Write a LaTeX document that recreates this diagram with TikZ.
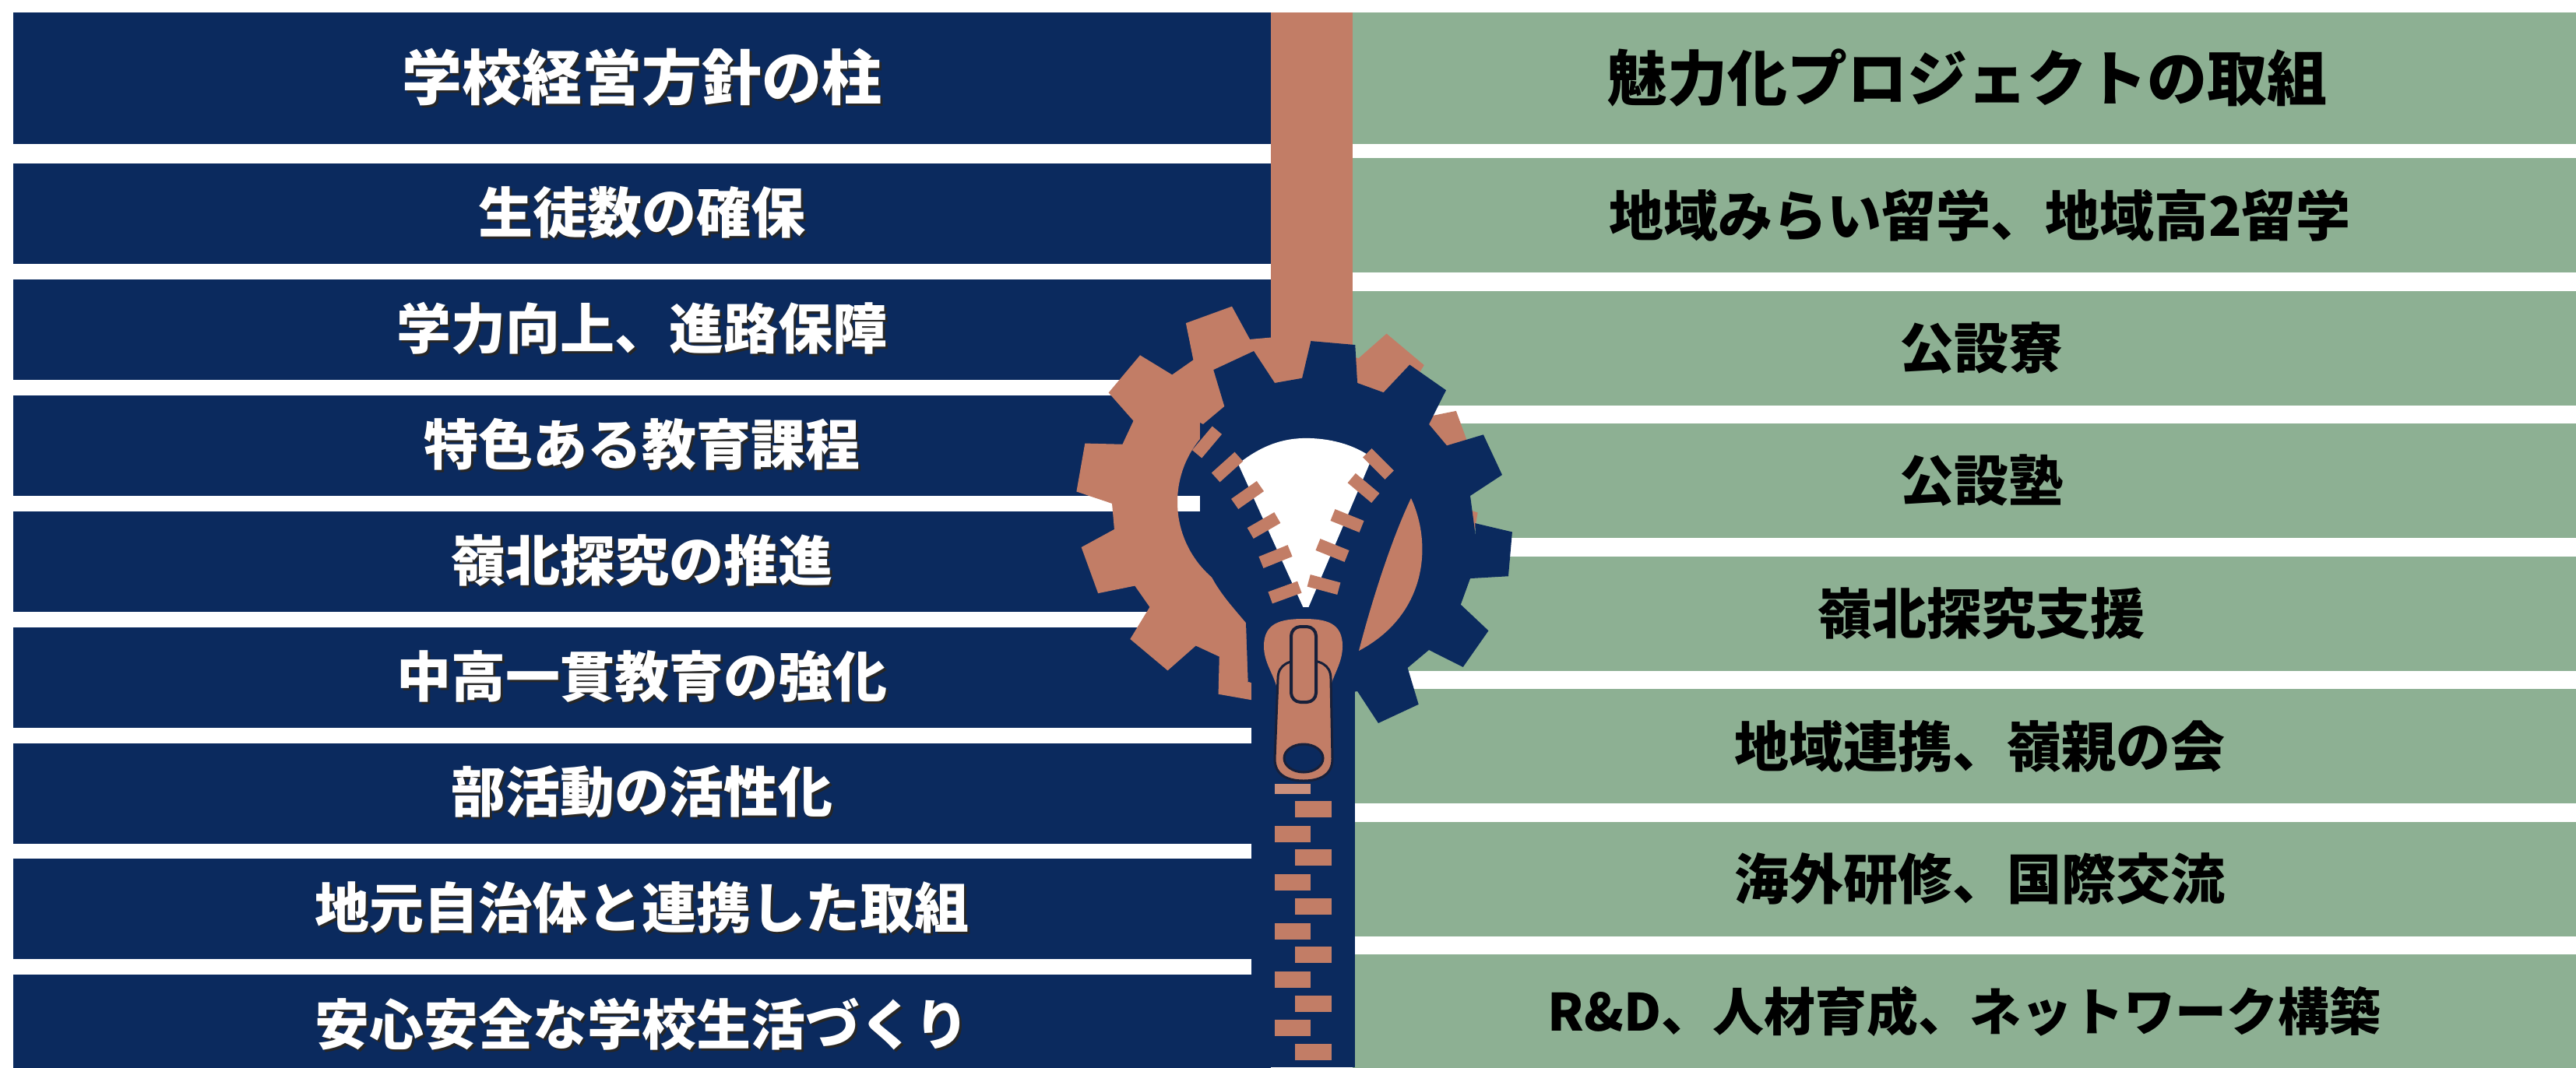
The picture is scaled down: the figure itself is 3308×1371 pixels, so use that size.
\documentclass[tikz,border=0pt]{standalone}
\usepackage{fontspec}
\setmainfont{Noto Sans CJK JP}
\definecolor{navy}{HTML}{0B2A5E}
\definecolor{copper}{HTML}{C27D66}
\definecolor{sage}{HTML}{8DB093}
\definecolor{rim}{HTML}{17203A}
\newcommand{\lifttext}[1]{\rlap{\kern3pt\raisebox{-3pt}{\color{black!85}#1}}#1}
\newcommand{\rowfont}{\fontsize{70pt}{70pt}\selectfont\bfseries}
\newcommand{\headfont}{\fontsize{77pt}{77pt}\selectfont\bfseries}
\tikzset{
	leftbar/.style={fill=navy,text=white,inner sep=0pt,minimum width=1615pt,minimum height=129pt,font=\rowfont},
	rightbar/.style={fill=sage,text=black,inner sep=0pt,minimum width=1571pt,minimum height=147pt,font=\rowfont},
	tooth/.style={fill=copper,inner sep=0pt,minimum width=40pt,minimum height=16pt},
	slider/.style={fill=copper,draw=rim,line width=3pt}
}
\begin{document}
\begin{tikzpicture}[x=1pt,y=-1pt]
	\useasboundingbox (0,0) rectangle (3308,1371);
	\clip (0,0) rectangle (3308,1371);
	\fill[white] (0,0) rectangle (3308,1371);
	% left column
	\node[leftbar,minimum height=169pt,font=\headfont] (L0) at (824.5,100.5) {\lifttext{学校経営方針の柱}};
	\foreach \t [count=\i] in {生徒数の確保,学力向上、進路保障,特色ある教育課程,嶺北探究の推進,中高一貫教育の強化,部活動の活性化,地元自治体と連携した取組,安心安全な学校生活づくり}
		\node[leftbar] (L\i) at (824.5,{274.5+148.9*(\i-1)}) {\lifttext{\t}};
	% right column
	\node[rightbar,minimum height=169pt,font=\headfont] (R0) at (2522.5,100.5) {\hspace*{8pt}魅力化プロジェクトの取組};
	\foreach \t/\s [count=\i] in {地域みらい留学、地域高2留学/40,公設寮/44,公設塾/44,嶺北探究支援/44,地域連携、嶺親の会/40,海外研修、国際交流/40}
		\node[rightbar] (R\i) at (2522.5,{276.5+170.5*(\i-1)}) {\hspace*{\s pt}\t};
	\node[rightbar,font=\fontsize{66pt}{66pt}\selectfont\bfseries] (R7) at (2522.5,1299.5) {R\&D、人材育成、ネットワーク構築};
	% zipper tape and copper gear
	\fill[copper] (1632,16) rectangle (1737,480);
	\fill[copper,even odd rule,shift={(1640,645)}] (0:212)
		\foreach \k in {0,...,11} {--({10+30*\k-10.5}:212)--({10+30*\k-7}:258)--({10+30*\k+7}:258)--({10+30*\k+10.5}:212)}
		-- cycle (0,0) circle (128);
	% navy gear
	\begin{scope}
		\clip (1541,380)--(2100,380)--(2100,1000)--(1607,1000)--(1600,800) .. controls (1575,770) and (1545,740) .. (1541,690)--cycle;
		\fill[navy,shift={(1690,690)}] (0:205)
			\foreach \k in {0,...,11} {--({5+30*\k-10}:205)--({5+30*\k-6.5}:252)--({5+30*\k+6.5}:252)--({5+30*\k+10}:205)}
			-- cycle;
	\end{scope}
	\fill[copper] (1812,640) .. controls (1840,700) and (1832,790) .. (1745,836) .. controls (1762,770) and (1788,690) .. (1812,640)--cycle;
	% open zipper
	\fill[white] (1590,596) .. controls (1625,568) and (1655,562) .. (1683,563) .. controls (1712,564) and (1740,572) .. (1762,588)--(1677,788)--cycle;
	\foreach \x/\y/\r [count=\i] in {1550/568/50,1576/600/42,1602/636/35,1623/675/30,1638/715/22,1650/761/20,1770/596/-45,1751/627/-40,1730/669/-22,1711/707/-22,1700/751/-15}
		\node[tooth,rotate=\r] (v\i) at (\x,\y) {};
	% closed zipper
	\fill[navy] (1607,780) rectangle (1740,1371);
	\node[tooth,minimum width=46pt,minimum height=13pt,fill=copper!85!white] (z0) at (1660,1013.5) {};
	\foreach \k in {0,...,5}
		\node[tooth,minimum width=47pt,minimum height=21pt] (zr\k) at (1686.5,{1039.5+62.4*\k}) {};
	\foreach \k in {0,...,4}
		\node[tooth,minimum width=46pt,minimum height=21pt] (zl\k) at (1660,{1071.5+62.3*\k}) {};
	% slider
	\fill[copper] (1623,830) .. controls (1623,800) and (1645,795) .. (1674,795) .. controls (1703,795) and (1724,800) .. (1724,830) .. controls (1724,852) and (1712,866) .. (1708,885)--(1640,885) .. controls (1636,866) and (1623,852) .. (1623,830)--cycle;
	\filldraw[slider] (1641,872) .. controls (1641,853) and (1656,848) .. (1675,848) .. controls (1694,848) and (1709,853) .. (1709,872)--(1711,975) .. controls (1711,996) and (1694,1003) .. (1674,1003) .. controls (1654,1003) and (1637,996) .. (1637,975)--cycle;
	\filldraw[slider,fill=navy] (1674,974) ellipse (25 and 18);
	\filldraw[slider,line width=4pt,rounded corners=12pt] (1658,805) rectangle (1690,902);
\end{tikzpicture}
\end{document}
